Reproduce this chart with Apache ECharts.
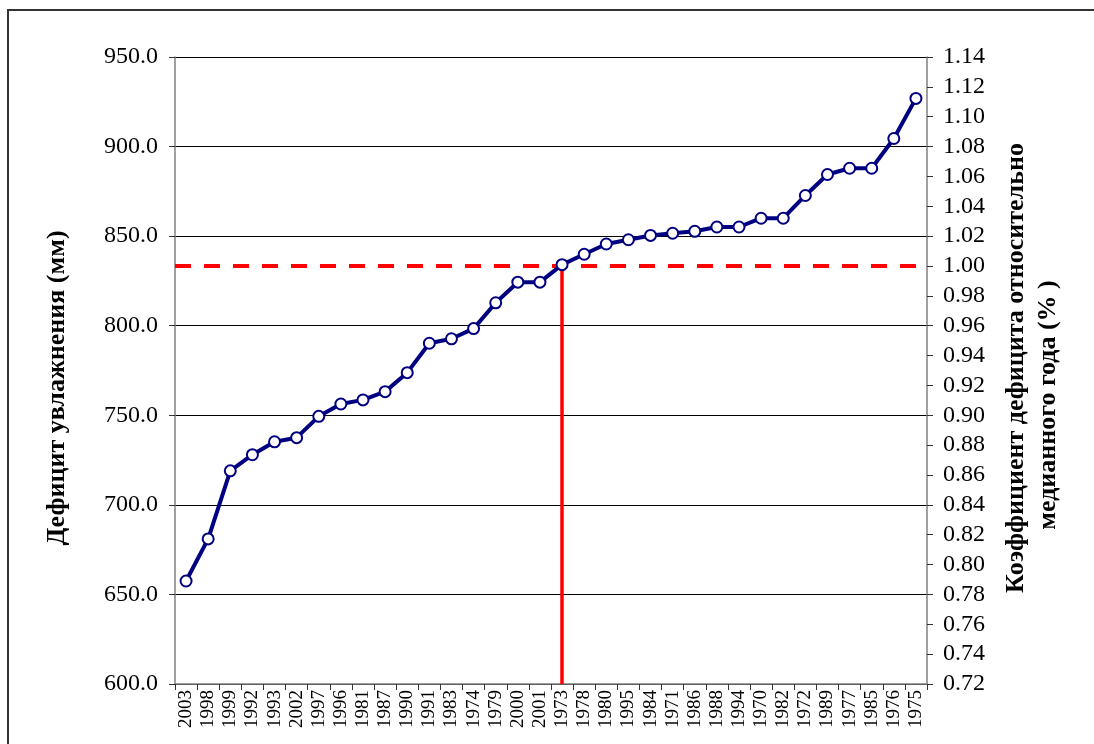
<!DOCTYPE html>
<html>
<head>
<meta charset="utf-8">
<script src="https://cdn.jsdelivr.net/npm/echarts@6/dist/echarts.min.js"></script>
<style>
  html, body { margin: 0; padding: 0; background: #fff; }
  #main { width: 1094px; height: 744px; }
</style>
</head>
<body>
<div id="main"></div>
<script>
  // годы, отсортированные по дефициту увлажнения
  var years = ['2003','1998','1999','1992','1993','2002','1997','1996','1981','1987','1990','1991',
               '1983','1974','1979','2000','2001','1973','1978','1980','1995','1984','1971','1986',
               '1988','1994','1970','1982','1972','1989','1977','1985','1976','1975'];
  // дефицит увлажнения, мм
  var deficit = [657.5, 681, 719, 728, 735.2, 737.5, 749.4, 756.3, 758.6, 763.2, 773.8, 790.2,
                 792.7, 798.4, 812.8, 824.3, 824.3, 834.1, 839.9, 845.6, 848.0, 850.4, 851.6, 852.7,
                 855.1, 855.1, 860.0, 860.0, 872.7, 884.4, 887.9, 887.9, 904.5, 926.9];
  // медианный год
  var medianValue = 833.33;
  var medianYear = '1973';

  var font = '"Liberation Serif", "Times New Roman", serif';

  var myChart = echarts.init(document.getElementById('main'));

  var option = {
    backgroundColor: '#fff',
    animation: false,
    grid: { left: 175, right: 167, top: 57, bottom: 60 },
    graphic: [
      { type: 'rect', shape: { x: 8, y: 10, width: 1100, height: 800 },
        style: { fill: 'none', stroke: '#333', lineWidth: 2 } },
      { type: 'text', x: 57, y: 388, rotation: Math.PI / 2,
        style: { text: 'Дефицит увлажнения (мм)', font: 'bold 26px ' + font, fill: '#000',
                 textAlign: 'center', textVerticalAlign: 'middle' } },
      { type: 'text', x: 1016, y: 368, rotation: Math.PI / 2,
        style: { text: 'Коэффициент дефицита относительно', font: 'bold 26px ' + font, fill: '#000',
                 textAlign: 'center', textVerticalAlign: 'middle' } },
      { type: 'text', x: 1048, y: 405, rotation: Math.PI / 2,
        style: { text: 'медианного года (% )', font: 'bold 26px ' + font, fill: '#000',
                 textAlign: 'center', textVerticalAlign: 'middle' } }
    ],
    xAxis: {
      type: 'category',
      data: years,
      boundaryGap: true,
      axisLine: { lineStyle: { color: '#808080', width: 1.5 } },
      axisTick: { show: true, length: 6, lineStyle: { color: '#333' } },
      axisLabel: { rotate: 90, interval: 0, fontSize: 19, fontFamily: font, color: '#000', margin: 6 },
      splitLine: { show: false }
    },
    yAxis: [
      {
        type: 'value',
        min: 600, max: 950, interval: 50,
        position: 'left',
        axisLine: { show: true, lineStyle: { color: '#808080', width: 1.5 } },
        axisTick: { show: true, length: 6, lineStyle: { color: '#333' } },
        axisLabel: { fontSize: 24, fontFamily: font, color: '#000', margin: 17,
                     formatter: function (v) { return v.toFixed(1); } },
        splitLine: { show: true, lineStyle: { color: '#000', width: 1 } }
      },
      {
        type: 'value',
        min: 0.72, max: 1.14, interval: 0.02,
        position: 'right',
        axisLine: { show: true, lineStyle: { color: '#808080', width: 1.5 } },
        axisTick: { show: true, length: 6, lineStyle: { color: '#333' } },
        axisLabel: { fontSize: 24, fontFamily: font, color: '#000', margin: 16,
                     formatter: function (v) { return v.toFixed(2); } },
        splitLine: { show: false }
      }
    ],
    series: [
      {
        name: 'median',
        type: 'line',
        data: [],
        markLine: {
          silent: true,
          symbol: 'none',
          label: { show: false },
          data: [
            { yAxis: medianValue, lineStyle: { color: '#ff0000', width: 4, type: [16, 13] } },
            [ { coord: [medianYear, medianValue] },
              { coord: [medianYear, 600] } ]
          ],
          lineStyle: { color: '#ff0000', width: 3.5, type: 'solid' }
        }
      },
      {
        name: 'deficit',
        type: 'line',
        data: deficit,
        z: 5,
        symbol: 'circle',
        symbolSize: 11,
        lineStyle: { color: '#000080', width: 4 },
        itemStyle: { color: '#fff', borderColor: '#000080', borderWidth: 2 }
      }
    ]
  };

  myChart.setOption(option);
</script>
</body>
</html>
